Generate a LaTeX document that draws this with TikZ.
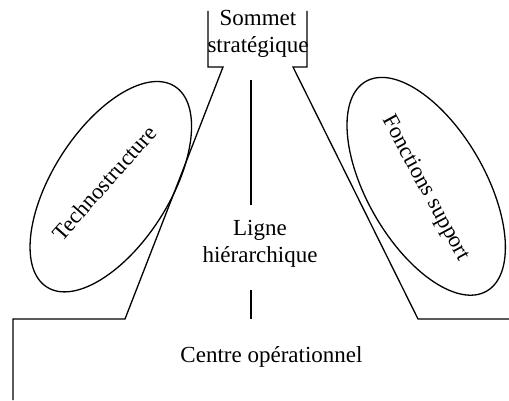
\documentclass[tikz,border=0pt]{standalone}
\usepackage{fontspec}
\setmainfont{Liberation Serif}
\usetikzlibrary{shapes.geometric}
\begin{document}
\begin{tikzpicture}[x=1pt,y=1pt,
  outline/.style={line width=1.3pt, line join=miter},
  oval/.style={draw, ellipse, line width=1.3pt, inner sep=0pt},
  lbl/.style={font=\fontsize{23}{27}\selectfont, align=center, inner sep=0pt},
  rlbl/.style={font=\fontsize{22.5}{27}\selectfont, inner sep=0pt}]
\useasboundingbox (0,0) rectangle (509,400);
% outline of the organisation
\coordinate (bl1) at (208,389);
\coordinate (bl2) at (208,333);
\coordinate (bl3) at (223,333);
\coordinate (lb) at (125,81);
\coordinate (lf) at (13,81);
\coordinate (ld) at (13,0);
\coordinate (br1) at (307,389);
\coordinate (br2) at (307,333);
\coordinate (br3) at (293,333);
\coordinate (rb) at (418,81);
\coordinate (rf) at (509,81);
\draw[outline] (bl1) -- (bl2) -- (bl3) -- (lb) -- (lf) -- (ld);
\draw[outline] (br1) -- (br2) -- (br3) -- (rb) -- (rf);
% middle line
\coordinate (m1) at (251,320);
\coordinate (m2) at (251,195);
\coordinate (m3) at (251,110);
\coordinate (m4) at (251,81);
\draw[outline] (m1) -- (m2);
\draw[outline] (m3) -- (m4);
% ellipses
\node[oval, minimum width=238pt, minimum height=117pt, rotate=57.5] (techno) at (110.8,213.3) {};
\node[oval, minimum width=242pt, minimum height=118pt, rotate=-60] (support) at (426.2,213.7) {};
% texts
\node[lbl, anchor=base] (sommet1) at (258,374) {Sommet};
\node[lbl, anchor=base] (sommet2) at (258,347) {stratégique};
\node[lbl, anchor=base] (ligne1) at (260,165) {Ligne};
\node[lbl, anchor=base] (ligne2) at (260,138) {hiérarchique};
\node[lbl, anchor=base] (centre) at (271.5,38) {Centre opérationnel};
\node[rlbl, anchor=base, rotate=48.7] (technotxt) at (110,211.7) {Technostructure};
\node[rlbl, anchor=base, rotate=-61.5] (supporttxt) at (420.8,209.2) {Fonctions support};
\end{tikzpicture}
\end{document}
